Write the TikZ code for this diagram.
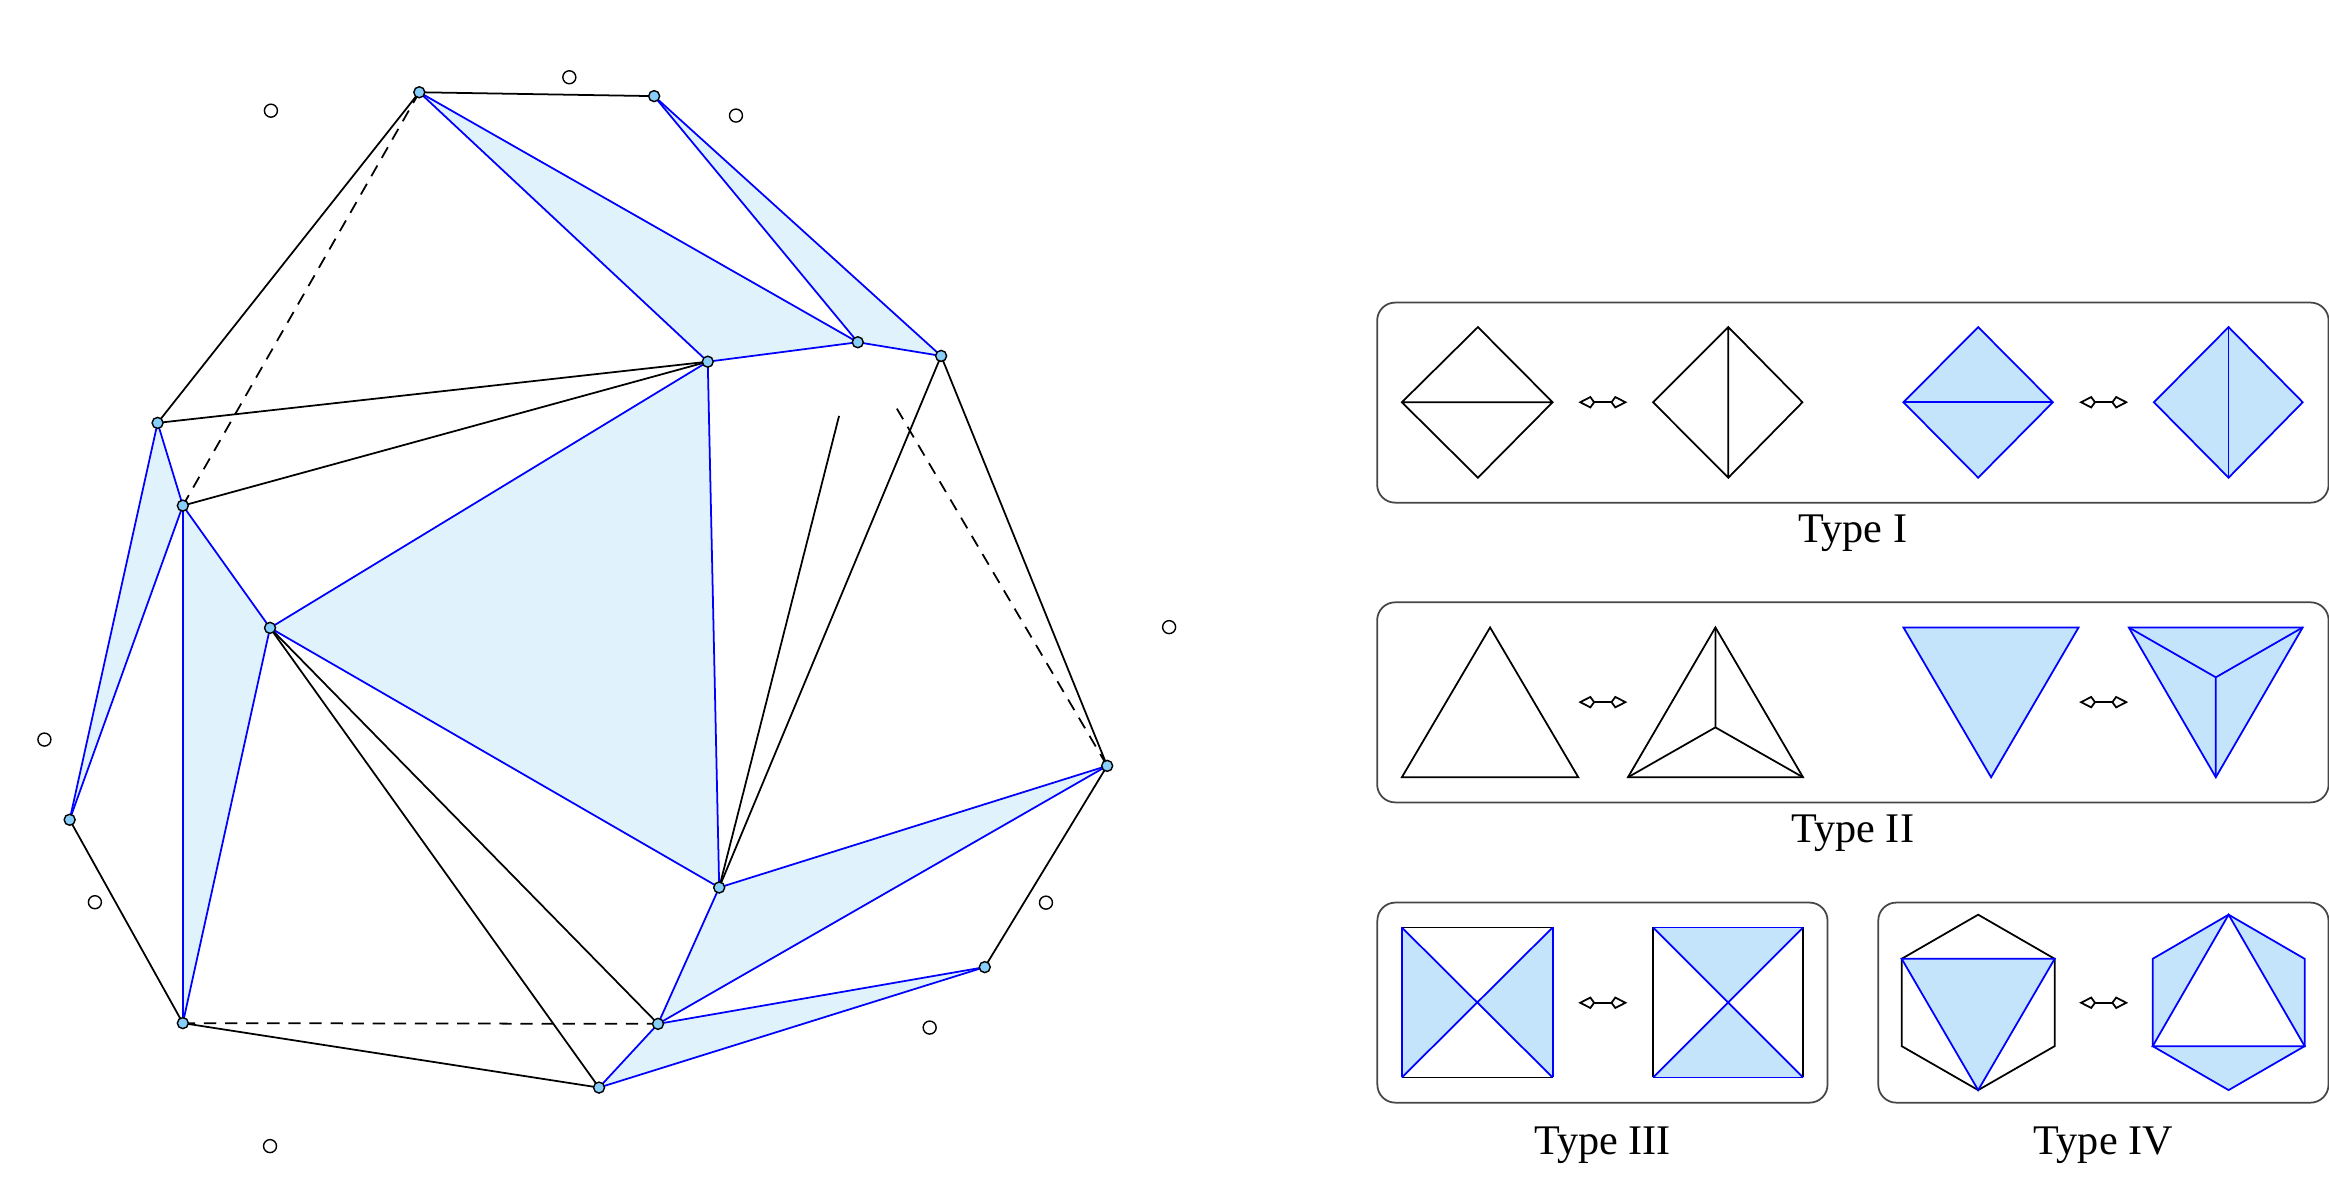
\documentclass[tikz,border=0pt]{standalone}
\usepackage{fontspec}
\setmainfont{Liberation Serif}
\usetikzlibrary{positioning,arrows.meta}

\definecolor{facefill}{RGB}{224,242,252}
\definecolor{panelfill}{RGB}{196,228,252}
\definecolor{dotfill}{RGB}{135,206,250}
\definecolor{flipblue}{RGB}{0,0,255}
\definecolor{panelline}{RGB}{70,70,70}

\begin{document}
\begin{tikzpicture}[
            x=0.014853cm, y=-0.014853cm,
            edge/.style={black, line width=0.5pt},
            bedge/.style={flipblue, line width=0.5pt},
            dedge/.style={black, line width=0.5pt, dash pattern=on 3.5pt off 2.5pt},
            face/.style={fill=facefill},
            sface/.style={fill=panelfill},
            vertex/.style={draw=black, line width=0.4pt, circle, fill=dotfill, inner sep=0pt, minimum size=0.11cm},
            hole/.style={draw=black, line width=0.4pt, circle, fill=white, inner sep=0pt, minimum size=0.13cm},
            panel/.style={draw=panelline, line width=0.5pt, rectangle, rounded corners=0.18cm, minimum height=2cm},
            typelabel/.style={inner sep=0pt, font=\fontsize{12}{14}\selectfont},
            flipmark/.style={line width=0.5pt, {Kite[open, length=4.8pt, width=3.6pt, inset=1.3pt]}-{Kite[open, length=4.8pt, width=3.6pt, inset=1.3pt]}}
        ]
        \useasboundingbox (0,0) rectangle (1568,798);

        % Knoten
        \coordinate (a) at (282.3,62.1);
        \coordinate (b) at (440.4,64.7);
        \coordinate (c) at (577.5,230.4);
        \coordinate (d) at (633.6,239.6);
        \coordinate (e) at (476.5,243.5);
        \coordinate (f) at (106.1,284.7);
        \coordinate (g) at (123.1,340.4);
        \coordinate (h) at (181.8,422.7);
        \coordinate (i) at (46.9,551.9);
        \coordinate (j) at (745.4,515.6);
        \coordinate (k) at (484.2,597.5);
        \coordinate (l) at (663.0,651.1);
        \coordinate (m) at (123.1,688.8);
        \coordinate (n) at (443.0,689.3);
        \coordinate (o) at (403.3,732.2);

        % Flaechen
        \fill[face] (a) -- (e) -- (c) -- cycle;
        \fill[face] (b) -- (c) -- (d) -- cycle;
        \fill[face] (e) -- (h) -- (k) -- cycle;
        \fill[face] (f) -- (g) -- (i) -- cycle;
        \fill[face] (g) -- (h) -- (m) -- cycle;
        \fill[face] (k) -- (j) -- (n) -- cycle;
        \fill[face] (n) -- (l) -- (o) -- cycle;

        % Kanten
        \draw[edge] (a) -- (b);
        \draw[edge] (a) -- (f);
        \draw[edge] (f) -- (e);
        \draw[edge] (g) -- (e);
        \draw[edge] (d) -- (k);
        \draw[edge] (d) -- (j);
        \draw[edge] (j) -- (l);
        \draw[edge] (i) -- (m);
        \draw[edge] (m) -- (o);
        \draw[edge] (h) -- (o);
        \draw[edge] (h) -- (n);
        \draw[edge, shorten >=0.76cm] (k) -- (c);

        \draw[dedge] (a) -- (g);
        \draw[dedge] (m) -- (n);
        \draw[dedge, shorten <=0.77cm] (c) -- (j);

        \draw[bedge] (a) -- (e);
        \draw[bedge] (a) -- (c);
        \draw[bedge] (e) -- (c);
        \draw[bedge] (b) -- (c);
        \draw[bedge] (b) -- (d);
        \draw[bedge] (c) -- (d);
        \draw[bedge] (e) -- (h);
        \draw[bedge] (h) -- (k);
        \draw[bedge] (e) -- (k);
        \draw[bedge] (f) -- (g);
        \draw[bedge] (f) -- (i);
        \draw[bedge] (g) -- (i);
        \draw[bedge] (g) -- (h);
        \draw[bedge] (g) -- (m);
        \draw[bedge] (h) -- (m);
        \draw[bedge] (k) -- (j);
        \draw[bedge] (j) -- (n);
        \draw[bedge] (k) -- (n);
        \draw[bedge] (n) -- (l);
        \draw[bedge] (l) -- (o);
        \draw[bedge] (n) -- (o);

        \foreach \v in {a,b,c,d,e,f,g,h,i,j,k,l,m,n,o}
            \node[vertex] (dot-\v) at (\v) {};

        % freie Punkte
        \node[hole] (h1) at (182.4,74.5) {};
        \node[hole] (h2) at (383.3,52.0) {};
        \node[hole] (h3) at (495.5,77.8) {};
        \node[hole] (h4) at (787.1,422.2) {};
        \node[hole] (h5) at (29.9,497.9) {};
        \node[hole] (h6) at (63.9,607.4) {};
        \node[hole] (h7) at (704.2,607.7) {};
        \node[hole] (h8) at (625.9,691.8) {};
        \node[hole] (h9) at (181.8,771.6) {};

        % Typen
        \node[panel, minimum width=9.51cm] (p1) at (1247.45,271.05) {};
        \node[panel, minimum width=9.51cm] (p2) at (1247.45,472.85) {};
        \node[panel, minimum width=4.50cm] (p3) at (1078.85,675.0) {};
        \node[panel, minimum width=4.50cm] (p4) at (1416.1,675.0) {};

        \node[typelabel, below=0.104cm of p1] (t1) {Type I};
        \node[typelabel, below=0.104cm of p2] (t2) {Type II};
        \node[typelabel, below=0.223cm of p3] (t3) {Type III};
        \node[typelabel, below=0.223cm of p4] (t4) {Type IV};

        % Type I
        \draw[edge] (943.8,270.8) -- (995,220.2) -- (1045.3,270.8) -- (995,321.6) -- cycle (943.8,270.8) -- (1045.3,270.8);
        \draw[edge] (1112.9,270.8) -- (1163.6,220.2) -- (1213.5,270.8) -- (1163.6,321.6) -- cycle (1163.6,220.2) -- (1163.6,321.6);
        \draw[bedge, sface] (1281.5,270.8) -- (1331.8,220.2) -- (1382.1,270.8) -- (1331.8,321.6) -- cycle;
        \draw[bedge] (1281.5,270.8) -- (1382.1,270.8);
        \draw[bedge, sface] (1450.1,270.8) -- (1500.4,220.2) -- (1550.3,270.8) -- (1500.4,321.6) -- cycle;
        \draw[bedge] (1500.4,220.2) -- (1500.4,321.6);
        \draw[flipmark] (1062.6,270.8) -- (1095.6,270.8);
        \draw[flipmark] (1399.8,270.8) -- (1432.8,270.8);

        % Type II
        \draw[edge] (1003.2,422.4) -- (943.8,523.3) -- (1062.6,523.3) -- cycle;
        \draw[edge] (1154.9,422.4) -- (1096,523.3) -- (1213.9,523.3) -- cycle;
        \draw[edge] (1154.9,422.4) -- (1154.9,489.7) (1096,523.3) -- (1154.9,489.7) -- (1213.9,523.3);
        \draw[bedge, sface] (1281.5,422.4) -- (1399.4,422.4) -- (1340.5,523.3) -- cycle;
        \draw[bedge, sface] (1433.2,422.4) -- (1550.3,422.4) -- (1491.8,523.3) -- cycle;
        \draw[bedge] (1491.8,523.3) -- (1491.8,456.0) (1433.2,422.4) -- (1491.8,456.0) -- (1550.3,422.4);
        \draw[flipmark] (1062.6,472.7) -- (1095.6,472.7);
        \draw[flipmark] (1399.8,472.7) -- (1432.8,472.7);

        % Type III
        \fill[sface] (943.8,624.4) -- (994.55,674.9) -- (943.8,725.4) -- cycle;
        \fill[sface] (1045.3,624.4) -- (994.55,674.9) -- (1045.3,725.4) -- cycle;
        \draw[edge] (943.8,624.4) -- (1045.3,624.4) (943.8,725.4) -- (1045.3,725.4);
        \draw[bedge] (943.8,624.4) -- (943.8,725.4) (1045.3,624.4) -- (1045.3,725.4);
        \draw[bedge] (943.8,624.4) -- (1045.3,725.4) (1045.3,624.4) -- (943.8,725.4);
        \fill[sface] (1112.9,624.4) -- (1163.4,674.9) -- (1213.9,624.4) -- cycle;
        \fill[sface] (1112.9,725.4) -- (1163.4,674.9) -- (1213.9,725.4) -- cycle;
        \draw[edge] (1112.9,624.4) -- (1112.9,725.4) (1213.9,624.4) -- (1213.9,725.4);
        \draw[bedge] (1112.9,624.4) -- (1213.9,624.4) (1112.9,725.4) -- (1213.9,725.4);
        \draw[bedge] (1112.9,624.4) -- (1213.9,725.4) (1213.9,624.4) -- (1112.9,725.4);
        \draw[flipmark] (1062.6,675.1) -- (1095.6,675.1);

        % Type IV
        \fill[sface] (1280.3,645.5) -- (1383.3,645.5) -- (1331.8,733.9) -- cycle;
        \draw[edge] (1280.3,645.5) -- (1331.8,615.8) -- (1383.3,645.5) -- (1383.3,704.3) -- (1331.8,733.9) -- (1280.3,704.3) -- cycle;
        \draw[bedge] (1280.3,645.5) -- (1383.3,645.5) -- (1331.8,733.9) -- cycle;
        \fill[sface] (1500.4,615.8) -- (1449.3,645.5) -- (1449.3,704.3) -- cycle;
        \fill[sface] (1500.4,615.8) -- (1551.6,645.5) -- (1551.6,704.3) -- cycle;
        \fill[sface] (1449.3,704.3) -- (1551.6,704.3) -- (1500.4,733.9) -- cycle;
        \draw[bedge] (1449.3,645.5) -- (1500.4,615.8) -- (1551.6,645.5) -- (1551.6,704.3) -- (1500.4,733.9) -- (1449.3,704.3) -- cycle;
        \draw[bedge] (1500.4,615.8) -- (1449.3,704.3) -- (1551.6,704.3) -- cycle;
        \draw[flipmark] (1399.8,675.1) -- (1432.8,675.1);

    \end{tikzpicture}
\end{document}
